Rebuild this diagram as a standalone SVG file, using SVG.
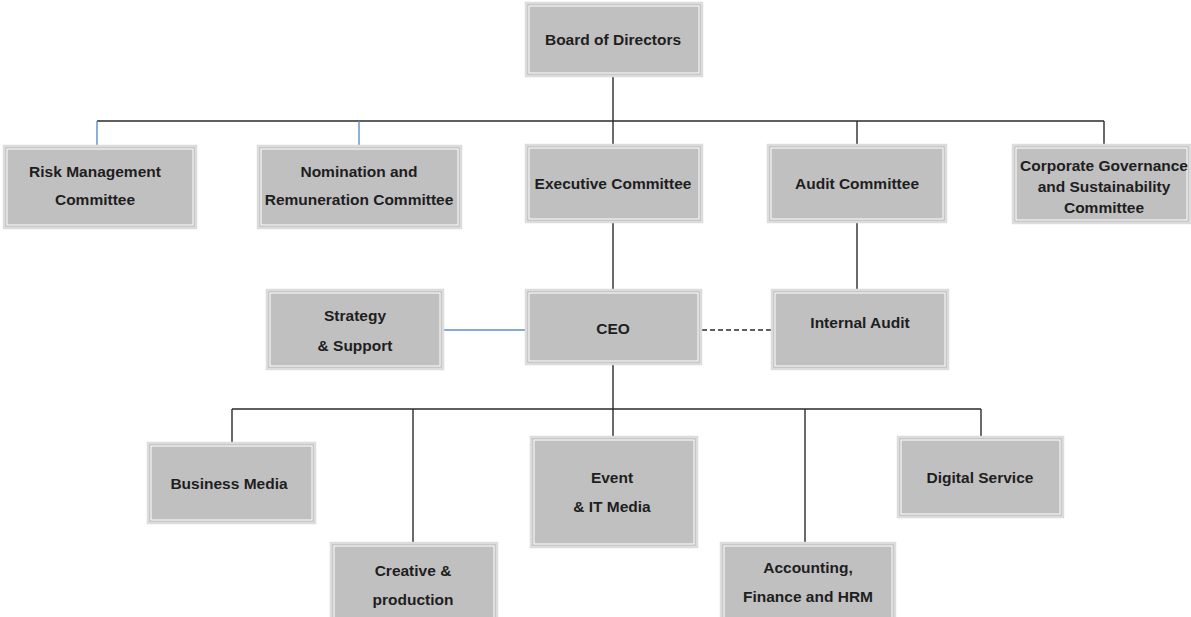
<svg xmlns="http://www.w3.org/2000/svg" width="1191" height="617" viewBox="0 0 1191 617">
<style>
.box{fill:#c0c0c1;stroke:#dcdcdc;stroke-width:2.5}
.inner{fill:none;stroke:#ffffff;stroke-width:1}
text{font-family:"Liberation Sans",Arial,sans-serif;font-weight:bold;font-size:15.5px;fill:#1e1e1e;text-anchor:middle}
.ln{stroke:#2b2b2b;stroke-width:1.4;fill:none}
.bl{stroke:#5b8fd0;stroke-width:1.4;fill:none}
.ds{stroke:#2b2b2b;stroke-width:1.4;fill:none;stroke-dasharray:5,3}
</style>
<rect width="1191" height="617" fill="#ffffff"/>
<g id="connectors">
<path class="ln" d="M613,76 V121 M97,121 H1104 M613,121 V146 M857,121 V146 M1104,121 V146"/>
<path class="bl" d="M97,121 V146 M359,121 V146"/>
<path class="ln" d="M613,222 V290 M857,222 V290"/>
<path class="bl" d="M443,330 H526"/>
<path class="ds" d="M702,330 H772"/>
<path class="ln" d="M613,364 V409 M232,409 H981 M232,409 V443 M413,409 V543 M613,409 V437 M805,409 V543 M981,409 V437"/>
</g>
<g id="board"><rect class="box" x="526" y="3" width="176" height="73"/><rect class="inner" x="529" y="6" width="170" height="67"/><text x="613" y="45">Board of Directors</text></g>
<g id="risk"><rect class="box" x="4" y="146" width="192" height="82"/><rect class="inner" x="7" y="149" width="186" height="76"/><text x="95" y="177">Risk Management</text><text x="95" y="205">Committee</text></g>
<g id="nomination"><rect class="box" x="258" y="146" width="203" height="82"/><rect class="inner" x="261" y="149" width="197" height="76"/><text x="359" y="177">Nomination and</text><text x="359" y="205">Remuneration Committee</text></g>
<g id="executive"><rect class="box" x="526" y="145" width="176" height="77"/><rect class="inner" x="529" y="148" width="170" height="71"/><text x="613" y="189">Executive Committee</text></g>
<g id="audit"><rect class="box" x="768" y="145" width="178" height="77"/><rect class="inner" x="771" y="148" width="172" height="71"/><text x="857" y="189">Audit Committee</text></g>
<g id="corporate"><rect class="box" x="1013" y="145" width="177" height="78"/><rect class="inner" x="1016" y="148" width="171" height="72"/><text x="1104" y="171">Corporate Governance</text><text x="1104" y="192">and Sustainability</text><text x="1104" y="213">Committee</text></g>
<g id="strategy"><rect class="box" x="267" y="290" width="176" height="79"/><rect class="inner" x="270" y="293" width="170" height="73"/><text x="355" y="321">Strategy</text><text x="355" y="351">&amp; Support</text></g>
<g id="ceo"><rect class="box" x="526" y="290" width="175" height="74"/><rect class="inner" x="529" y="293" width="169" height="68"/><text x="613" y="334">CEO</text></g>
<g id="internal-audit"><rect class="box" x="772" y="290" width="176" height="79"/><rect class="inner" x="775" y="293" width="170" height="73"/><text x="860" y="328">Internal Audit</text></g>
<g id="business-media"><rect class="box" x="148" y="443" width="167" height="80"/><rect class="inner" x="151" y="446" width="161" height="74"/><text x="229" y="489">Business Media</text></g>
<g id="creative"><rect class="box" x="331" y="543" width="166" height="80"/><rect class="inner" x="334" y="546" width="160" height="74"/><text x="413" y="576">Creative &amp;</text><text x="413" y="605">production</text></g>
<g id="event"><rect class="box" x="531" y="437" width="166" height="110"/><rect class="inner" x="534" y="440" width="160" height="104"/><text x="612" y="483">Event</text><text x="612" y="512">&amp; IT Media</text></g>
<g id="accounting"><rect class="box" x="721" y="543" width="174" height="80"/><rect class="inner" x="724" y="546" width="168" height="74"/><text x="808" y="573">Accounting,</text><text x="808" y="602">Finance and HRM</text></g>
<g id="digital"><rect class="box" x="898" y="437" width="165" height="80"/><rect class="inner" x="901" y="440" width="159" height="74"/><text x="980" y="483">Digital Service</text></g>
</svg>
